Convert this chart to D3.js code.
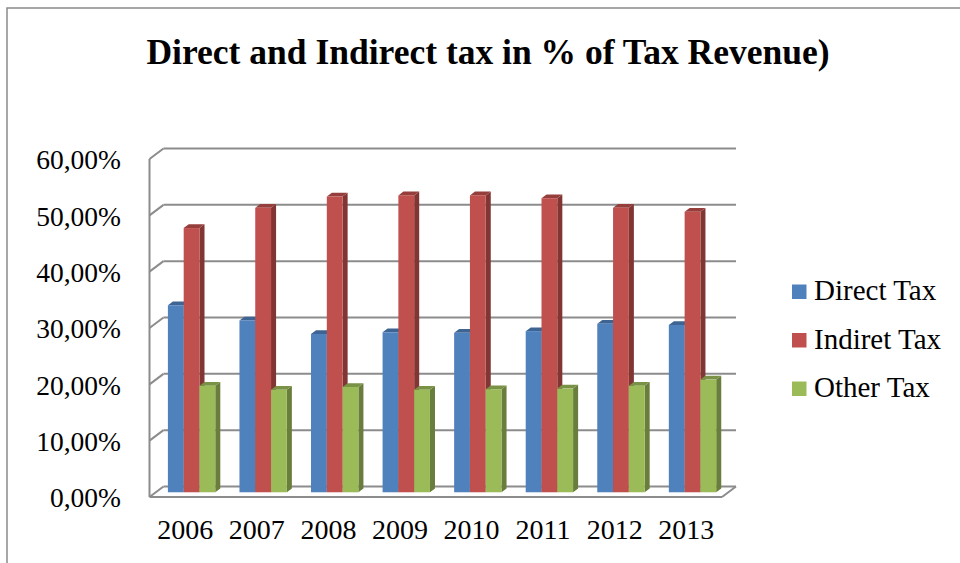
<!DOCTYPE html>
<html>
<head>
<meta charset="utf-8">
<script src="https://cdn.jsdelivr.net/npm/d3@7"></script>
<style>
  html, body { margin: 0; padding: 0; background: #ffffff; }
  svg { display: block; }
</style>
</head>
<body>
<svg id="chart" width="960" height="563"></svg>
<script>
// ---- data ----
const categories = ["2006", "2007", "2008", "2009", "2010", "2011", "2012", "2013"];
const seriesNames = ["Direct Tax", "Indiret Tax", "Other Tax"];
const directTax   = [33.2, 30.5, 28.1, 28.4, 28.3, 28.6, 29.9, 29.7];
const indirectTax = [46.9, 50.5, 52.5, 52.7, 52.7, 52.2, 50.5, 49.8];
const otherTax    = [18.9, 18.2, 18.7, 18.2, 18.3, 18.4, 18.9, 20.0];
const yTicks = [0, 10, 20, 30, 40, 50, 60];
const titleText = "Direct and Indirect tax in % of Tax Revenue)";

// ---- layout ----
const seriesValues = [directTax, indirectTax, otherTax];
const colors = ["#4F81BD", "#C0504D", "#9BBB59"];
const FONT = "'Liberation Serif', 'Times New Roman', serif";

const frontLeft = 149.5, frontRight = 722;
const DX = 14, DY = -10.5;          // wall depth offset
const barT = 0.45, barDepth = 0.36; // bar position / depth as a fraction of the wall depth
const bdx = DX * barDepth, bdy = DY * barDepth;

const svg = d3.select("#chart");

// outer frame
svg.append("rect")
  .attr("x", 7).attr("y", 8).attr("width", 980).attr("height", 600)
  .attr("fill", "none").attr("stroke", "#8a8a8a").attr("stroke-width", 1.5);

// scales
const yFront = d3.scaleLinear().domain([0, 60]).range([497, 159]);
const xBars = d3.scaleBand().domain(categories)
  .range([frontLeft + barT * DX, frontRight + barT * DX])
  .paddingInner(0.338).paddingOuter(0.169);
const xSeries = d3.scaleBand().domain(seriesNames).range([0, xBars.bandwidth()]);
const xLabels = d3.scaleBand().domain(categories).range([frontLeft, frontRight]);

// walls / gridlines
const grid = svg.append("g").attr("stroke", "#8c8c8c").attr("stroke-width", 2).attr("fill", "none");
yTicks.forEach(v => {
  const yf = yFront(v), yb = yf + DY;
  grid.append("line").attr("x1", frontLeft + DX).attr("x2", frontRight + DX).attr("y1", yb).attr("y2", yb);
  grid.append("line").attr("x1", frontLeft).attr("y1", yf).attr("x2", frontLeft + DX).attr("y2", yb);
});
grid.append("line").attr("x1", frontLeft).attr("x2", frontLeft)
  .attr("y1", yFront(60)).attr("y2", yFront(0));
grid.append("line").attr("x1", frontLeft).attr("x2", frontRight)
  .attr("y1", yFront(0)).attr("y2", yFront(0));
grid.append("line").attr("x1", frontRight).attr("y1", yFront(0))
  .attr("x2", frontRight + DX).attr("y2", yFront(0) + DY);

// bars
const baseY = yFront(0) + barT * DY;
const barsG = svg.append("g");
categories.forEach((cat, i) => {
  seriesNames.forEach((s, k) => {
    const v = seriesValues[k][i];
    const x = xBars(cat) + xSeries(s);
    const w = xSeries.bandwidth();
    const y = yFront(v) + barT * DY;
    const c = d3.color(colors[k]);
    const g = barsG.append("g");
    // side
    g.append("path")
      .attr("d", `M${x + w},${y} L${x + w + bdx},${y + bdy} L${x + w + bdx},${baseY + bdy} L${x + w},${baseY} Z`)
      .attr("fill", c.darker(1.1).formatHex());
    // top
    g.append("path")
      .attr("d", `M${x},${y} L${x + w},${y} L${x + w + bdx},${y + bdy} L${x + bdx},${y + bdy} Z`)
      .attr("fill", c.darker(0.7).formatHex());
    // front
    g.append("rect")
      .attr("x", x).attr("y", y).attr("width", w).attr("height", baseY - y)
      .attr("fill", colors[k]);
  });
});

// y axis labels
const yAxis = d3.axisLeft(yFront).tickValues(yTicks)
  .tickFormat(d => d3.format(".2f")(d).replace(".", ",") + "%")
  .tickSize(0).tickPadding(0);
const yg = svg.append("g").attr("transform", "translate(121,1)").call(yAxis);
yg.select(".domain").remove();
yg.attr("font-family", FONT).attr("font-size", 27.5);
yg.selectAll("text").attr("font-family", FONT).attr("font-size", 27.5).attr("fill", "#000");

// x axis labels
const xAxis = d3.axisBottom(xLabels).tickSize(0).tickPadding(0);
const xg = svg.append("g").attr("transform", "translate(0,519)").call(xAxis);
xg.select(".domain").remove();
xg.attr("font-family", FONT).attr("font-size", 28);
xg.selectAll("text").attr("font-family", FONT).attr("font-size", 28).attr("fill", "#000");

// title
svg.append("text")
  .attr("x", 488).attr("y", 64)
  .attr("text-anchor", "middle")
  .attr("font-family", FONT).attr("font-weight", "bold").attr("font-size", 35.5)
  .attr("fill", "#000")
  .text(titleText);

// legend
const legendY = [284.5, 333, 381.5];
const lg = svg.append("g");
seriesNames.forEach((s, k) => {
  lg.append("rect").attr("x", 792).attr("y", legendY[k]).attr("width", 14.5).attr("height", 14.5)
    .attr("fill", colors[k]);
  lg.append("text").attr("x", 814).attr("y", legendY[k] + 15.5)
    .attr("font-family", FONT).attr("font-size", 29).attr("fill", "#000")
    .text(s);
});
</script>
</body>
</html>
